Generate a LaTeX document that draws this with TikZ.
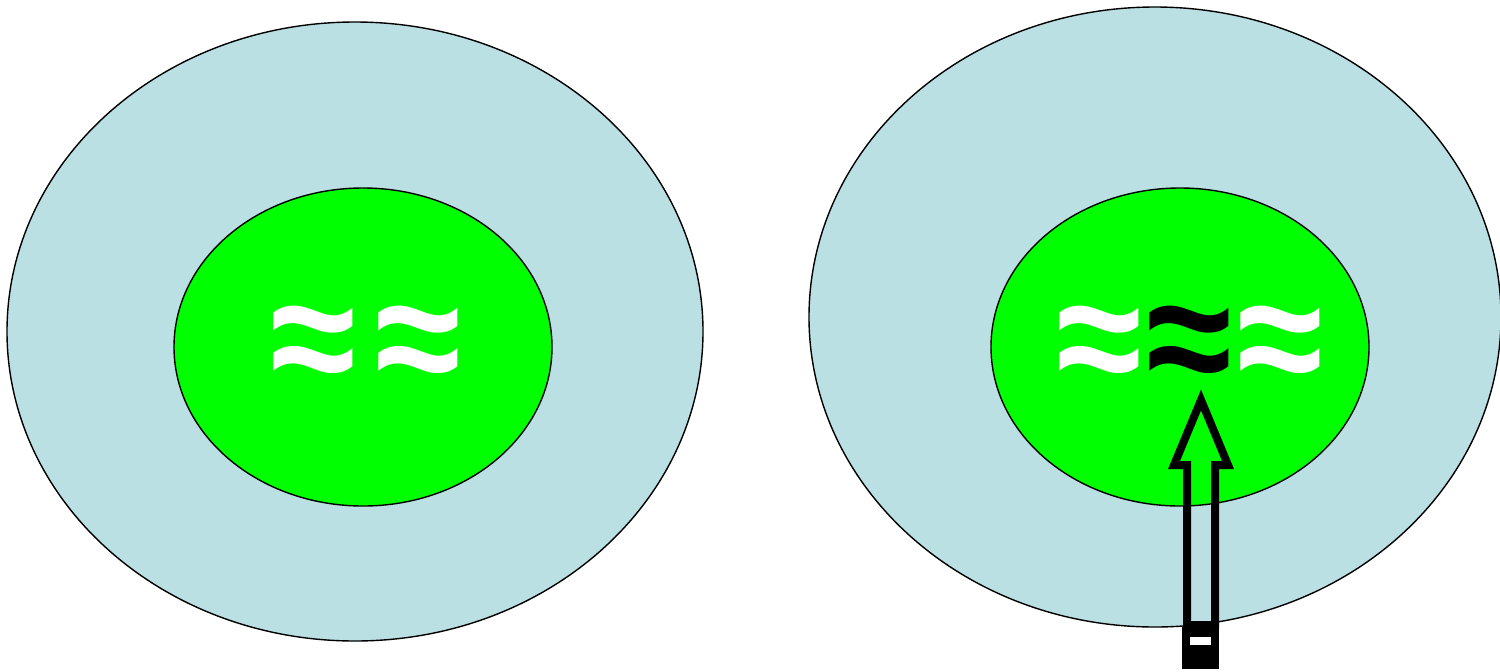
\documentclass[tikz,border=0pt]{standalone}
\usepackage{fontspec}
\setmainfont{Liberation Sans}
\definecolor{outerblue}{HTML}{BBE0E3}
\definecolor{innergreen}{HTML}{00FF00}
\tikzset{
  outerell/.style={draw=black, line width=0.7pt, fill=outerblue},
  innerell/.style={draw=black, line width=0.7pt, fill=innergreen},
  wave/.style={font=\fontsize{78}{80}\selectfont\bfseries, inner sep=0pt, anchor=center, yscale=1.1},
  arrowline/.style={draw=black, line width=4pt, line join=miter}
}
\begin{document}
\begin{tikzpicture}[x=0.5pt,y=-0.5pt]
\useasboundingbox (0,0) rectangle (1500,671);
% left
\path[outerell] (355,331.5) ellipse [x radius=348, y radius=309.5];
\path[innerell] (363,347) ellipse [x radius=189, y radius=159];
\node[wave, text=white] (l1) at (313,351) {≈};
\node[wave, text=white] (l2) at (418,351) {≈};
% right
\path[outerell] (1155,317) ellipse [x radius=346, y radius=310];
\path[innerell] (1180,347) ellipse [x radius=189, y radius=159];
\node[wave, text=white] (r1) at (1099,351) {≈};
\node[wave, text=black] (r2) at (1189,351) {≈};
\node[wave, text=white] (r3) at (1280,351) {≈};
% arrow
\coordinate (tip) at (1201,400);
\draw[arrowline] (tip) -- (1228,465) -- (1215,465) -- (1215,625) -- (1187,625) -- (1187,465) -- (1174,465) -- cycle;
\fill[black] (1182,627) rectangle (1219,669);
\fill[white] (1190,637) rectangle (1211,645);
\end{tikzpicture}
\end{document}
